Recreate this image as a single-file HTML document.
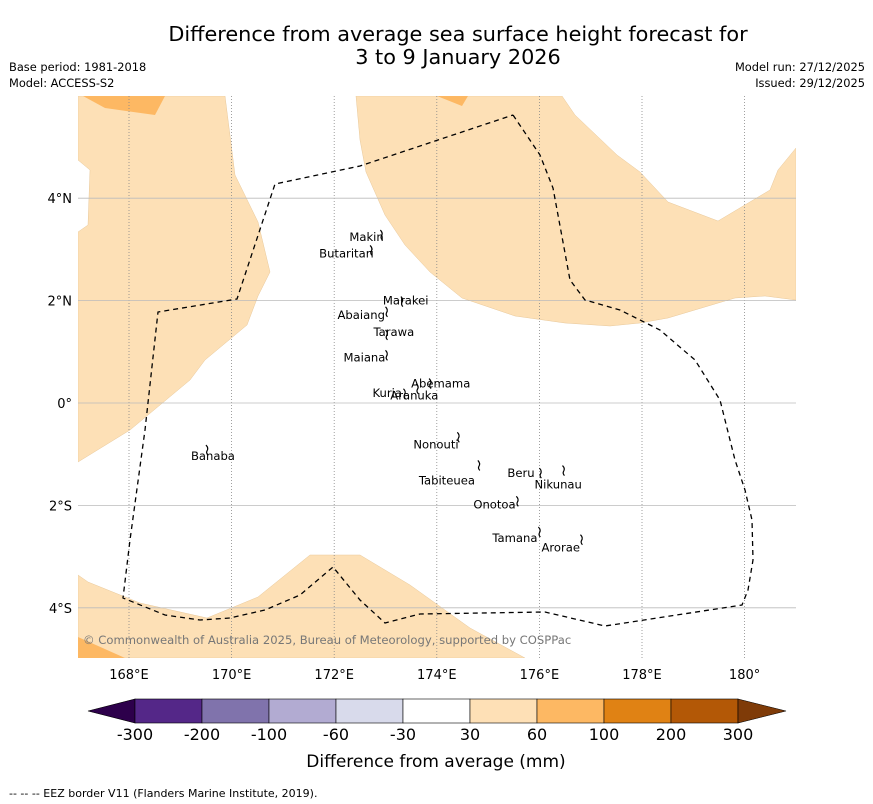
<!DOCTYPE html>
<html><head><meta charset="utf-8"><style>
body{margin:0;background:#fff;width:873px;height:804px;overflow:hidden;font-family:"DejaVu Sans","Liberation Sans",sans-serif}
svg{display:block}
</style></head><body>
<svg id="s" width="873" height="804" xmlns="http://www.w3.org/2000/svg" font-family="DejaVu Sans, Liberation Sans, sans-serif">
<text x="458" y="41" font-size="20.8" text-anchor="middle">Difference from average sea surface height forecast for</text>
<text x="458" y="64" font-size="20.8" text-anchor="middle">3 to 9 January 2026</text>
<text x="9" y="71" font-size="11.4">Base period: 1981-2018</text>
<text x="9" y="87" font-size="11.4">Model: ACCESS-S2</text>
<text x="865" y="71" font-size="11.4" text-anchor="end">Model run: 27/12/2025</text>
<text x="865" y="87" font-size="11.4" text-anchor="end">Issued: 29/12/2025</text>
<defs><clipPath id="mc"><rect x="78" y="96" width="718" height="562"/></clipPath></defs>
<g clip-path="url(#mc)">
<polygon fill="#fde0b6" stroke="#e8c89a" stroke-width="0.5" points="78,96 225,96 235,175 258,222 270,272 258,296 247,325 205,360 190,380 130,430 78,462 78,232 88,225 90,170 78,160"/>
<polygon fill="#fdb863" points="83,96 165,96 155,115 105,108"/>
<polygon fill="#fde0b6" stroke="#e8c89a" stroke-width="0.5" points="356,96 562,96 575,115 617,155 640,172 668,202 718,221 770,190 778,170 796,148 796,300 765,296 735,298 668,318 640,323 610,326 565,323 515,316 462,298 430,272 405,245 385,215 366,172 360,140"/>
<polygon fill="#fdb863" points="437,96 468,96 462,106"/>
<polygon fill="#fde0b6" stroke="#e8c89a" stroke-width="0.5" points="78,575 88,582 140,603 207,618 258,597 310,555 360,555 410,585 470,628 525,658 78,658"/>
<polygon fill="#fdb863" points="78,637 125,658 78,658"/>
<g id="grid"></g>
<polyline fill="none" stroke="#000" stroke-width="1.3" stroke-dasharray="5,4" points="513,115 540,155 553,188 570,280 585,300 620,310 660,330 695,360 720,400 735,460 745,490 752,520 753,560 748,590 742,605 605,626 545,612 420,614 385,623 360,600 333,567 300,595 265,610 230,618 200,620 165,615 123,598 130,540 145,430 158,312 237,299 275,184 360,166 513,115"/>
<g id="isl" fill="none" stroke="#000" stroke-width="1.2"></g>
<text x="83" y="644" font-size="11.6" fill="#777">© Commonwealth of Australia 2025, Bureau of Meteorology, supported by COSPPac</text>
</g>
<g id="ax" font-size="13"></g>
<g id="cb"></g>
<text x="436" y="767" font-size="17" text-anchor="middle">Difference from average (mm)</text>
<text x="9" y="797" font-size="11">--  --  -- EEZ border V11 (Flanders Marine Institute, 2019).</text>
</svg>
<script>
const lonTicks=[168,170,172,174,176,178,180];
const lonLabels=["168°E","170°E","172°E","174°E","176°E","178°E","180°"];
const latTicks=[4,2,0,-2,-4];
const latLabels=["4°N","2°N","0°","2°S","4°S"];
const cbLabels=["-300","-200","-100","-60","-30","30","60","100","200","300"];
const cbColors=["#542788","#8073ac","#b2abd2","#d8daeb","#ffffff","#fee0b6","#fdb863","#e08214","#b35806"];
const islandNames=["Makin","Butaritari","Marakei","Abaiang","Tarawa","Maiana","Abemama","Kuria","Aranuka","Banaba","Nonouti","Beru","Nikunau","Tabiteuea","Onotoa","Tamana","Arorae"];
const islandLon=[172.9,172.7,173.3,173.0,173.0,173.0,173.85,173.35,173.6,169.5,174.4,176.0,176.45,174.8,175.55,175.98,176.8];
const islandLat=[3.3,3.0,2.0,1.8,1.35,0.95,0.4,0.2,0.3,-0.9,-0.65,-1.35,-1.3,-1.2,-1.9,-2.5,-2.65];
const labelDx=[-31,-51,-18,-48,-12,-42,-18,-31,-26,-15,-44,-32,-28,-59,-43,-46,-39];
const labelDy=[7,8,4,8,2,7,5,4,12,11,12,5,19,20,8,11,13];
const NS="http://www.w3.org/2000/svg";
const X=lon=>129+(lon-168)*51.3, Y=lat=>403-lat*51.2;
function mk(t,a,p){const e=document.createElementNS(NS,t);for(const k in a)e.setAttribute(k,a[k]);p.appendChild(e);return e;}
const g=document.getElementById('grid'),ax=document.getElementById('ax');
lonTicks.forEach((v,i)=>{
 const l=mk('line',{x1:X(v),x2:X(v),y1:96,y2:658,stroke:'#888','stroke-width':0.8,'stroke-dasharray':'1,2'},g);
 
 
 const t=mk('text',{x:X(v),y:679,'text-anchor':'middle'},ax);t.textContent=lonLabels[i];
 
 
});
latTicks.forEach((v,i)=>{
 const l=mk('line',{x1:78,x2:796,y1:Y(v),y2:Y(v),stroke:'#bbb','stroke-width':0.8},g);
 
 
 const t=mk('text',{x:72,y:Y(v)+5,'text-anchor':'end'},ax);t.textContent=latLabels[i];
 
 
});
const isl=document.getElementById('isl'),svg=document.getElementById('s');
islandNames.forEach((n,i)=>{
 const x=X(islandLon[i]),y=Y(islandLat[i]);
 const p=mk('path',{d:`M${x} ${y-4} q3 3 1 6 q-1 2 1 4`},isl);
 
 
 const t=mk('text',{x:x+labelDx[i],y:y+labelDy[i],'font-size':11.6},svg);t.textContent=n;
 
 
});
const cb=document.getElementById('cb');const x0=135,w=67,y0=699,h=24;
const lt=mk('polygon',{points:`88,711 ${x0},${y0} ${x0},${y0+h}`,fill:'#2d004b',stroke:'#000','stroke-width':0.6},cb);


cbColors.forEach((c,i)=>{
 const r=mk('rect',{x:x0+i*w,y:y0,width:w,height:h,fill:c,stroke:'#000','stroke-width':0.6},cb);
 
 
});
const xe=x0+cbColors.length*w;
const rt=mk('polygon',{points:`${xe},${y0} 786,711 ${xe},${y0+h}`,fill:'#7f3b08',stroke:'#000','stroke-width':0.6},cb);


cbLabels.forEach((s,i)=>{
 const t=mk('text',{x:x0+i*w,y:740,'font-size':16,'text-anchor':'middle'},cb);t.textContent=s;
 
 
});
</script>
</body></html>
